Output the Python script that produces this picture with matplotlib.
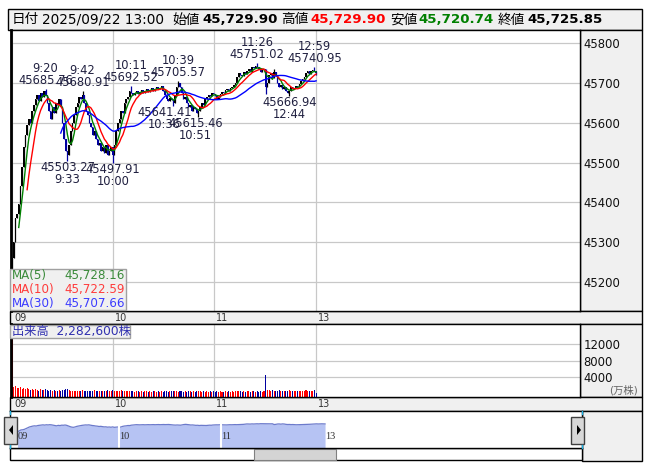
import numpy as np
import matplotlib
matplotlib.use("Agg")
import matplotlib.pyplot as plt
from matplotlib.patches import Rectangle, Polygon
from matplotlib.transforms import ScaledTranslation, blended_transform_factory
import pandas as pd

plt.rcParams['font.family'] = ['DejaVu Sans', 'Noto Sans CJK JP']

W, H = 653, 470

# ---- data (1-minute bars, 9:00-11:30 and 12:30-13:00) ----
first_open = 45200
closes = [
    45260, 45300, 45360, 45370, 45395, 45440, 45490, 45540, 45570, 45595,   # 9:00-
    45610, 45600, 45630, 45645, 45660, 45670, 45655, 45675, 45665, 45680,   # 9:10-
    45670, 45650, 45630, 45610, 45640, 45625, 45650, 45645, 45660, 45640,   # 9:20-
    45600, 45560, 45530, 45520, 45545, 45580, 45600, 45620, 45640, 45650,   # 9:30-
    45665, 45660, 45670, 45650, 45630, 45620, 45600, 45590, 45570, 45580,   # 9:40-
    45560, 45545, 45550, 45530, 45540, 45525, 45545, 45520, 45530, 45540,   # 9:50-
    45520, 45545, 45580, 45600, 45610, 45630, 45625, 45650, 45660, 45665,   # 10:00-
    45680, 45675, 45670, 45675, 45680, 45672, 45678, 45682, 45676, 45680,   # 10:10-
    45685, 45678, 45683, 45688, 45680, 45686, 45690, 45684, 45688, 45692,   # 10:20-
    45680, 45670, 45660, 45655, 45662, 45658, 45650, 45670, 45690, 45700,   # 10:30-
    45690, 45675, 45660, 45665, 45650, 45640, 45645, 45630, 45640, 45635,   # 10:40-
    45625, 45630, 45640, 45650, 45645, 45660, 45665, 45670, 45668, 45675,   # 10:50-
    45672, 45668, 45660, 45665, 45672, 45678, 45675, 45682, 45685, 45680,   # 11:00-
    45688, 45690, 45695, 45700, 45715, 45725, 45720, 45718, 45728, 45722,   # 11:10-
    45730, 45735, 45728, 45740, 45738, 45742, 45740, 45735, 45728, 45732,   # 11:20-
    45735,                                                                  # 11:30
    45690, 45700, 45720, 45725, 45712, 45728, 45720, 45700, 45690, 45695,   # 12:30-
    45685, 45690, 45680, 45675, 45680, 45690, 45685, 45688, 45692, 45690,   # 12:40-
    45698, 45705, 45710, 45715, 45725, 45730, 45723, 45730, 45732, 45729.90,  # 12:50-
    45725.85,                                                               # 13:00
]
wick_high = {20: 45685.76, 42: 45680.91, 71: 45692.52, 99: 45705.57,
             146: 45751.02, 156: 45735, 180: 45740.95}
wick_low = {0: 45160, 33: 45503.27, 60: 45497.91, 96: 45641.41,
            111: 45615.46, 151: 45672, 165: 45666.94, 181: 45720.74}

# volume in 万株
volumes = [
    30000,
    1600, 1700, 1400, 1300, 1500, 1200, 1400, 1100, 1300, 1200,
    900, 1100, 800, 1000, 900, 700, 1000, 800, 900, 1100,
    800, 700, 900, 600, 800, 700, 600, 800, 700, 900,
    800, 1000, 1100, 800, 700, 600, 700, 500, 600, 700,
    600, 800, 600, 500, 600, 700, 500, 600, 800, 500,
    600, 700, 500, 600, 700, 600, 800, 700, 600, 900,
    700, 600, 500, 600, 800, 500, 600, 500, 700, 600,
    500, 600, 400, 500, 600, 400, 500, 400, 600, 500,
    400, 500, 400, 500, 500, 400, 500, 400, 500, 400,
    500, 600, 400, 500, 600, 700, 500, 600, 400, 500,
    500, 400, 500, 400, 500, 600, 400, 500, 400, 500,
    600, 500, 400, 500, 400, 500, 400, 500, 400, 500,
    400, 500, 400, 500, 400, 400, 500, 400, 500, 400,
    500, 400, 600, 500, 700, 500, 400, 500, 400, 500,
    500, 400, 500, 600, 400, 500, 400, 500, 400, 700,
    4500,
    900, 800, 700, 800, 600, 700, 600, 800, 700, 600,
    700, 600, 700, 800, 600, 700, 600, 700, 600, 700,
    600, 700, 600, 800, 700, 600, 700, 600, 800, 228.26,
]

hour_idx = [0, 60, 120, 181]
hour_labels = ['09', '10', '11', '13']
price_ticks = [45200, 45300, 45400, 45500, 45600, 45700, 45800]
vol_ticks = [4000, 8000, 12000]
peak_marks = [20, 42, 71, 99, 146, 180]
trough_marks = [33, 60, 96, 111, 165]
ma_periods = [5, 10, 30]
ma_last = [45728.16, 45722.59, 45707.66]
date_str = '2025/09/22 13:00'

# ---- derived ----
closes = np.array(closes, dtype=float)
volumes = np.array(volumes, dtype=float)
x = np.arange(len(closes))
opens = np.r_[first_open, closes[:-1]]
opens[-1] = 45729.90
highs = np.maximum(opens, closes)
lows = np.minimum(opens, closes)
for k, v in wick_high.items():
    highs[k] = v
for k, v in wick_low.items():
    lows[k] = v
up = closes >= opens


def tstr(i):
    if i <= 150:
        m = 9 * 60 + i
    else:
        m = 12 * 60 + 30 + (i - 151)
    return f"{m // 60}:{m % 60:02d}"


fig = plt.figure(figsize=(W / 100, H / 100), dpi=100)
fig.patch.set_facecolor('white')


def px_axes(x0, y0, x1, y1, **kw):
    return fig.add_axes([x0 / W, 1 - y1 / H, (x1 - x0) / W, (y1 - y0) / H], **kw)


# background chrome
bg = px_axes(0, 0, W, H)
bg.set_xlim(0, W)
bg.set_ylim(H, 0)
bg.axis('off')
grey = '#f0f0f0'
for (rx, ry, rw, rh) in [(8, 9, 634, 21), (580, 30, 62, 281), (10, 311, 632, 13),
                         (580, 324, 62, 73), (10, 397, 632, 14), (582, 411, 60, 50)]:
    bg.add_patch(Rectangle((rx, ry), rw, rh, fc=grey, ec='black', lw=1))
bg.add_patch(Rectangle((10, 448), 572, 12, fc='white', ec='black', lw=1))
bg.add_patch(Rectangle((254, 449), 82, 11, fc='#d4d4d4', ec='#808080', lw=0.8))

# header
hdr = [(12, '日付', 'normal', 'black'), (42, date_str, 'normal', 'black'),
       (172, '始値', 'normal', 'black'), (202, f"{opens[-1]:,.2f}", 'bold', 'black'),
       (281, '高値', 'normal', 'black'), (310, f"{highs[-1]:,.2f}", 'bold', '#ff0000'),
       (390, '安値', 'normal', 'black'), (418, f"{lows[-1]:,.2f}", 'bold', '#008000'),
       (498, '終値', 'normal', 'black'), (527, f"{closes[-1]:,.2f}", 'bold', 'black')]
for hx, s, fw, c in hdr:
    bg.text(hx, 19.5, s, fontsize=9.6 if fw == 'bold' else 9.8, fontweight=fw,
            color=c, ha='left', va='center')
bg.text(638, 390, '(万株)', fontsize=7.5, color='#666666', ha='right', va='center')

grid_c = '#c8c8c8'
lbl_off = ScaledTranslation(2 / 100, 0, fig.dpi_scale_trans)

# ---- price panel ----
ax = px_axes(11, 30, 580, 311)
ax.set_xlim(-0.6, 338.1)
ax.set_ylim(45127, 45833.4)
ax.set_yticks(price_ticks)
ax.yaxis.tick_right()
ax.set_xticks(hour_idx)
ax.set_xticklabels(hour_labels)
ax.tick_params(axis='y', length=0, pad=2.5, labelsize=8.4, labelcolor='#101010')
ax.tick_params(axis='x', length=0, pad=1.5, labelsize=7, labelcolor='#333333')
for t in ax.get_xticklabels():
    t.set_ha('left')
    t.set_transform(t.get_transform() + lbl_off)
ax.grid(True, color=grid_c, lw=0.9)
ax.set_axisbelow(True)
for s in ax.spines.values():
    s.set_linewidth(1)
ax.spines['left'].set_linewidth(2)

cols = np.where(up, 'black', '#0000a0')
ax.vlines(x, lows, highs, colors=cols, lw=0.9, zorder=2)
ax.bar(x, np.maximum(np.abs(closes - opens), 2.5), bottom=np.minimum(opens, closes),
       width=0.9, color=cols, lw=0, zorder=2)

ma_cols = ['#008000', '#ff0000', '#0000ff']
cs = pd.Series(closes)
for n, c in zip(ma_periods, ma_cols):
    ax.plot(x, cs.rolling(n).mean(), color=c, lw=1, zorder=3)

ann_c = '#202040'
for i in peak_marks:
    ax.annotate(f"{highs[i]:.2f}", (i, highs[i]), xytext=(0, 2), textcoords='offset pixels',
                ha='center', va='bottom', fontsize=8.3, color=ann_c, zorder=4)
    ax.annotate(tstr(i), (i, highs[i]), xytext=(0, 14), textcoords='offset pixels',
                ha='center', va='bottom', fontsize=8.3, color=ann_c, zorder=4)
low_dx = {96: -9, 111: -3}
for i in trough_marks:
    dx = low_dx.get(i, 0)
    ax.annotate(f"{lows[i]:.2f}", (i, lows[i]), xytext=(dx, 0), textcoords='offset pixels',
                ha='center', va='top', fontsize=8.3, color=ann_c, zorder=4)
    ax.annotate(tstr(i), (i, lows[i]), xytext=(dx, -12), textcoords='offset pixels',
                ha='center', va='top', fontsize=8.3, color=ann_c, zorder=4)

# ---- volume panel ----
av = px_axes(11, 324, 580, 397)
av.set_xlim(-0.6, 338.1)
vmin, vmax = -848, 16848
av.set_ylim(vmin, vmax)
av.set_yticks(vol_ticks)
av.yaxis.tick_right()
av.set_xticks(hour_idx)
av.set_xticklabels(hour_labels)
av.tick_params(axis='y', length=0, pad=2.5, labelsize=8.4, labelcolor='#101010')
av.tick_params(axis='x', length=0, pad=1.5, labelsize=7, labelcolor='#333333')
for t in av.get_xticklabels():
    t.set_ha('left')
    t.set_transform(t.get_transform() + lbl_off)
av.grid(True, color=grid_c, lw=0.9)
av.set_axisbelow(True)
for s in av.spines.values():
    s.set_linewidth(1)
av.spines['left'].set_linewidth(2)
vcols = np.where(up, '#ff0000', '#0000a0')
av.bar(x, volumes - vmin, bottom=vmin, width=0.6, color=vcols, lw=0)

# ---- navigator ----
an = px_axes(10, 411, 582, 448)
an.set_xlim(-4.4, 332.2)
an.set_ylim(44262, 46512)
an.set_xticks([])
an.set_yticks([])
for s in an.spines.values():
    s.set_linewidth(1)
an.fill_between(x, 44262, closes, color='#b6c3f3', lw=0)
an.plot(x, closes, color='#6c7acb', lw=0.9)
for i in hour_idx[1:3]:
    an.axvline(i - 0.5, color='white', lw=1.5)
tr = blended_transform_factory(an.transData, an.transAxes)
for i, s in zip(hour_idx, hour_labels):
    an.text(i, 0.3, s, transform=tr, fontsize=7.5, family='Liberation Serif',
            color='#303030', ha='left', va='center')

# ---- overlay chrome ----
ov = px_axes(0, 0, W, H)
ov.set_xlim(0, W)
ov.set_ylim(H, 0)
ov.axis('off')
ov.patch.set_alpha(0)

# MA legend box
ov.add_patch(Rectangle((10, 269), 116, 41, fc='#f0f0f0', ec='#a0a0a0', lw=1))
leg_cols = ['#3a8a3a', '#ff3c3c', '#3c3cff']
for k, (n, v, c) in enumerate(zip(ma_periods, ma_last, leg_cols)):
    yy = 275.5 + 14 * k
    ov.text(12, yy, f"MA({n})", fontsize=8.6, color=c, ha='left', va='center')
    ov.text(125, yy, f"{v:,.2f}", fontsize=8.6, color=c, ha='right', va='center')

# volume label
ov.add_patch(Rectangle((10, 325), 120, 13, fc='#f0f0f0', ec='#a0a0a0', lw=1))
ov.text(12, 332, f"出来高  {int(round(volumes[-1] * 10000)):,}株", fontsize=8.8,
        color='#3030b0', ha='left', va='center')

# navigator buttons
for bx, pts in [(4, [(13, 425), (13, 435), (9, 430)]), (571, [(577, 425), (577, 435), (581, 430)])]:
    ov.add_patch(Rectangle((bx, 417), 13, 27, fc='#d8d8d8', ec='#404040', lw=1))
    ov.add_patch(Polygon(pts, closed=True, fc='black', ec='none'))
for cx in (10, 582):
    ov.plot([cx, cx], [411, 414], color='#20b0e0', lw=1)
    ov.plot([cx, cx], [445, 448], color='#20b0e0', lw=1)

fig.savefig('out.png', dpi=100)
